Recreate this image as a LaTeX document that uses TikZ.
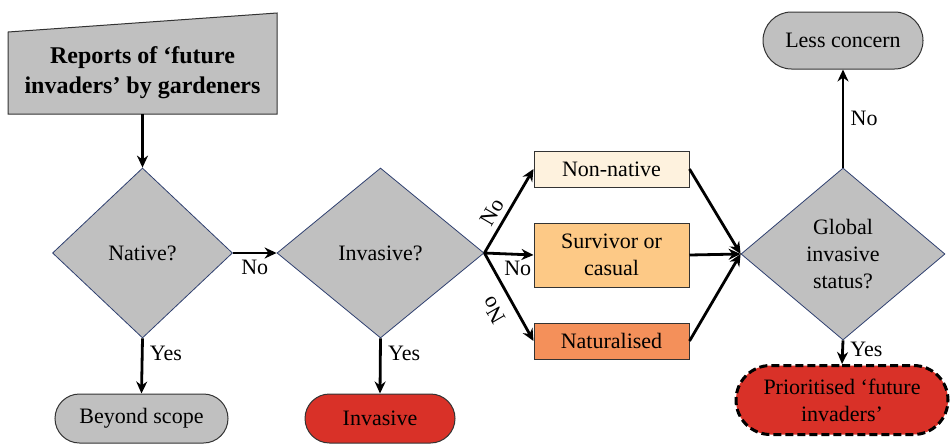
\documentclass[tikz,border=0pt]{standalone}
\usepackage{fontspec}
\setmainfont{Liberation Serif}
\usetikzlibrary{shapes.geometric,shapes.misc,arrows.meta}
\definecolor{boxgrey}{RGB}{192,192,192}
\definecolor{cream}{RGB}{254,242,222}
\definecolor{lightorange}{RGB}{253,201,134}
\definecolor{darkorange}{RGB}{244,144,90}
\definecolor{alertred}{RGB}{217,49,40}
\definecolor{edgeblue}{RGB}{47,64,112}
\tikzset{
	decision/.style={diamond, draw=edgeblue, line width=0.8pt, fill=boxgrey, inner sep=0pt, align=center},
	terminal/.style={rounded rectangle, draw=black!80, line width=1pt, inner sep=0pt, align=center},
	category/.style={rectangle, draw=black!80, line width=1pt, minimum width=155pt, inner sep=0pt, align=center},
	flow/.style={-{Stealth[length=12pt,width=11pt]}, line width=2.8pt},
}

\begin{document}
\begin{tikzpicture}[x=1pt, y=-1pt, every node/.style={font=\rmfamily\fontsize{22}{27}\selectfont}]
	\useasboundingbox (0,0) rectangle (950,445);

	% start
	\draw[fill=boxgrey, draw=black!80, line width=1pt] (8,32) -- (277,13) -- (277,114) -- (8,114) -- cycle;
	\node[minimum width=269pt, minimum height=82pt, inner sep=0pt, align=center,
		font=\rmfamily\fontsize{24}{30}\selectfont\bfseries] (reports) at (142.5,73) {Reports of ‘future\\invaders’ by gardeners};

	% decisions
	\node[decision, minimum width=180pt, minimum height=170pt] (native) at (142.5,253) {Native?};
	\node[decision, minimum width=207pt, minimum height=170pt] (invasive) at (380.5,253) {Invasive?};
	\node[decision, minimum width=204pt, minimum height=172pt] (global) at (843,254) {Global\\invasive\\status?};

	% outcomes
	\node[terminal, fill=boxgrey, minimum width=173pt, minimum height=49pt] (beyond) at (141.5,418.5) {Beyond scope};
	\node[terminal, fill=alertred, minimum width=150pt, minimum height=49pt] (invasiveend) at (380,418.5) {Invasive};
	\node[terminal, fill=boxgrey, minimum width=160pt, minimum height=57pt] (less) at (843,40.5) {Less concern};
	\node[terminal, fill=alertred, draw=black, line width=3pt, dash pattern=on 8pt off 4pt,
		minimum width=212pt, minimum height=69pt] (prioritised) at (842,400) {Prioritised ‘future\\invaders’};

	% status
	\node[category, fill=cream, minimum height=36pt] (nonnative) at (611.5,169) {Non-native};
	\node[category, fill=lightorange, minimum height=64pt] (survivor) at (611.5,255) {Survivor or\\casual};
	\node[category, fill=darkorange, minimum height=36pt] (naturalised) at (611.5,341) {Naturalised};

	% arrows
	\draw[flow] (reports.south) -- (native.north);
	\draw[flow] (native.east) -- node[below, yshift=-2pt] {No} (invasive.west);
	\draw[flow] (native.south) -- node[pos=0.27, right, xshift=3pt] {Yes} (beyond.north);
	\draw[flow] (invasive.south) -- node[pos=0.27, right, xshift=3pt] {Yes} (invasiveend.north);

	\draw[flow] (invasive.east) -- node[sloped, above, pos=0.4, yshift=2pt] {No} (nonnative.west);
	\draw[flow] (invasive.east) -- node[below, pos=0.68, yshift=-2pt] {No} (survivor.west);
	\draw[flow] (invasive.east) -- node[rotate=120, pos=0.5, xshift=-4pt, yshift=20pt] {No} (naturalised.west);

	\draw[flow] (nonnative.east) -- (global.west);
	\draw[flow] (survivor.east) -- (global.west);
	\draw[flow] (naturalised.east) -- (global.west);

	\draw[flow] (global.north) -- node[right, xshift=3pt] {No} (less.south);
	\draw[flow] (global.south) -- node[pos=0.4, right, xshift=3pt] {Yes} (prioritised.north);
\end{tikzpicture}
\end{document}
